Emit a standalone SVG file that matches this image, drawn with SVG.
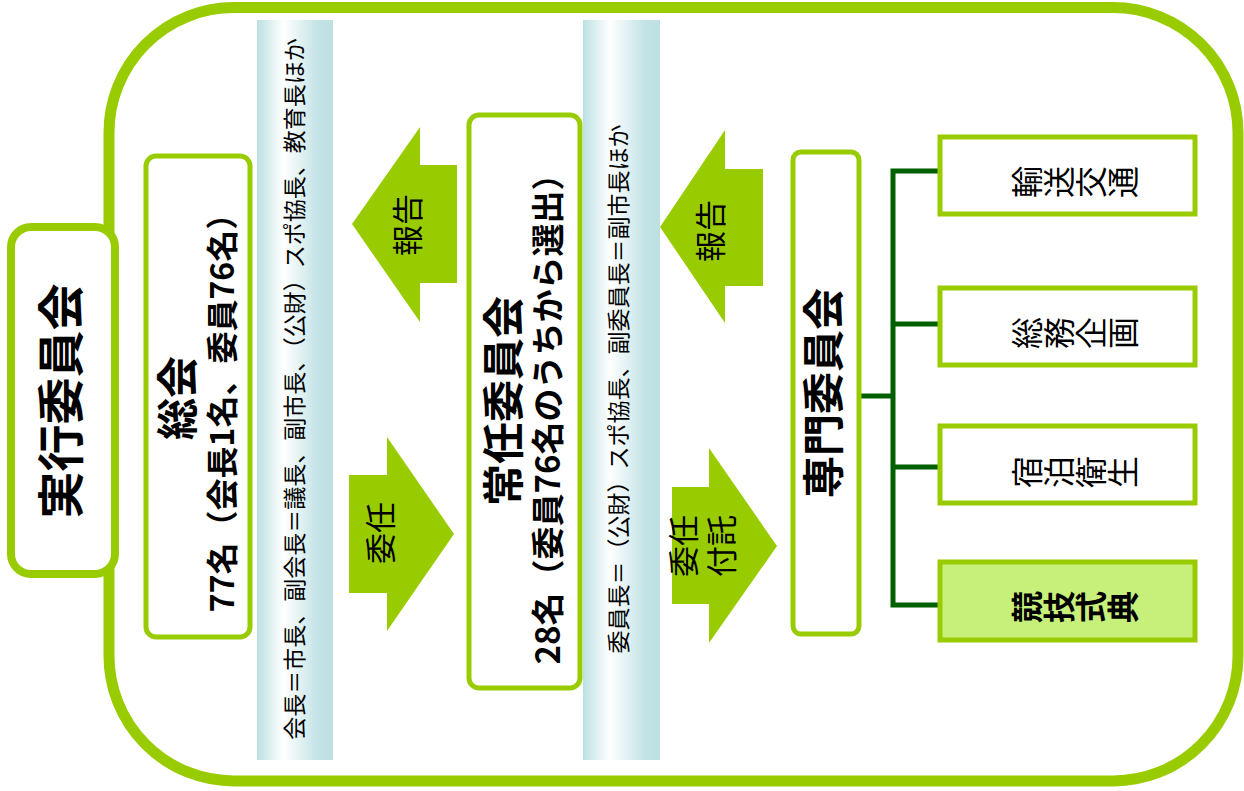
<svg xmlns="http://www.w3.org/2000/svg" width="1244" height="791" viewBox="0 0 1244 791">
  <defs>
    <linearGradient id="strip" x1="0" y1="0" x2="1" y2="0">
      <stop offset="0" stop-color="#bde0e3"/>
      <stop offset="0.35" stop-color="#ffffff"/>
      <stop offset="0.8" stop-color="#c3e3e6"/>
      <stop offset="1" stop-color="#bde0e3"/>
    </linearGradient>
    <style>
      text { font-family: "Noto Sans CJK JP", "Noto Sans", sans-serif; fill: #000; }
      .v { text-anchor: middle; dominant-baseline: central; }
      .b { font-weight: bold; }
      .box { fill: #fff; stroke: #99cc00; stroke-width: 5; }
      .sub { fill: #fff; stroke: #99cc00; stroke-width: 5; }
      .arrow { fill: #99cc00; }
      .tree { fill: none; stroke: #006000; stroke-width: 5; }
      .vt { writing-mode: vertical-rl; text-anchor: middle; }
    </style>
  </defs>
  <rect width="1244" height="791" fill="#fff"/>

  <g id="frame">
    <rect x="109" y="7.5" width="1129" height="773.5" rx="125" ry="125" fill="#fff" stroke="#99cc00" stroke-width="11"/>
  </g>

  <g id="strip1">
    <rect x="257" y="20" width="76" height="740" fill="url(#strip)"/>
    <text class="v" font-size="23" transform="translate(293,389) rotate(-90)">会長＝市長、副会長＝議長、副市長、（公財）スポ協長、教育長ほか</text>
  </g>
  <g id="strip2">
    <rect x="583" y="20" width="77" height="740" fill="url(#strip)"/>
    <text class="v" font-size="23" transform="translate(617,389) rotate(-90)">委員長＝（公財）スポ協長、副委員長＝副市長ほか</text>
  </g>

  <g id="connectors">
    <polygon class="arrow" points="352,224 420,127 420,165 457,165 457,283 420,283 420,322"/>
    <polygon class="arrow" points="349,475 387,475 387,437 454,534 387,631 387,593 349,593"/>
    <polygon class="arrow" points="660,227 725,130 725,169 763,169 763,286 725,286 725,323"/>
    <polygon class="arrow" points="672,487 709,487 709,448 777,546 709,643 709,604 672,604"/>
    <path class="tree" d="M859,396 H893 M893,168.5 V607.5 M890.5,171 H940 M890.5,324 H940 M890.5,467 H940 M890.5,605 H940"/>
    <text class="v" font-size="31" transform="translate(405,225) rotate(-90)">報告</text>
    <text class="v" font-size="31" transform="translate(378,533) rotate(-90)">委任</text>
    <text class="v" font-size="31" transform="translate(708,231) rotate(-90)">報告</text>
    <text class="v" font-size="31" transform="translate(700,546) rotate(-90)"><tspan x="0" dy="-19">委任</tspan><tspan x="0" dy="38">付託</tspan></text>
  </g>

  <g id="jikko">
    <rect x="11" y="227" width="104" height="347" rx="20" ry="20" fill="#fff" stroke="#99cc00" stroke-width="8"/>
    <text class="v b" font-size="47" transform="translate(57,401) rotate(-90)">実行委員会</text>
  </g>

  <g id="sokai">
    <rect class="box" x="146" y="156" width="104" height="481" rx="10" ry="10"/>
    <text class="v b" font-size="42" transform="translate(174,398) rotate(-90)">総会</text>
    <text class="v b" font-size="32" transform="translate(220,405) rotate(-90)">77名（会長1名、委員76名）</text>
  </g>

  <g id="jonin">
    <rect class="box" x="469" y="115" width="111" height="573" rx="10" ry="10"/>
    <text class="v b" font-size="42" transform="translate(500,401) rotate(-90)">常任委員会</text>
    <text class="v b" font-size="33" transform="translate(546,411) rotate(-90)">28名（委員76名のうちから選出）</text>
  </g>

  <g id="senmon">
    <rect class="box" x="793" y="152" width="66" height="482" rx="8" ry="8"/>
    <text class="v b" font-size="42" transform="translate(820,393) rotate(-90)">専門委員会</text>
  </g>

  <g id="yuso">
    <rect class="sub" x="940" y="137" width="255" height="77"/>
    <text class="vt" font-size="32" transform="translate(1075,182) rotate(-90)">輸送交通</text>
  </g>
  <g id="somu">
    <rect class="sub" x="940" y="288" width="255" height="77"/>
    <text class="vt" font-size="32" transform="translate(1075,333) rotate(-90)">総務企画</text>
  </g>
  <g id="shukuhaku">
    <rect class="sub" x="940" y="426" width="255" height="77"/>
    <text class="vt" font-size="32" transform="translate(1075,472) rotate(-90)">宿泊衛生</text>
  </g>
  <g id="kyogi">
    <rect x="940" y="562" width="255" height="78" fill="#c6f07a" stroke="#99cc00" stroke-width="5"/>
    <text class="vt b" font-size="32" transform="translate(1075,607) rotate(-90)">競技式典</text>
  </g>
</svg>
